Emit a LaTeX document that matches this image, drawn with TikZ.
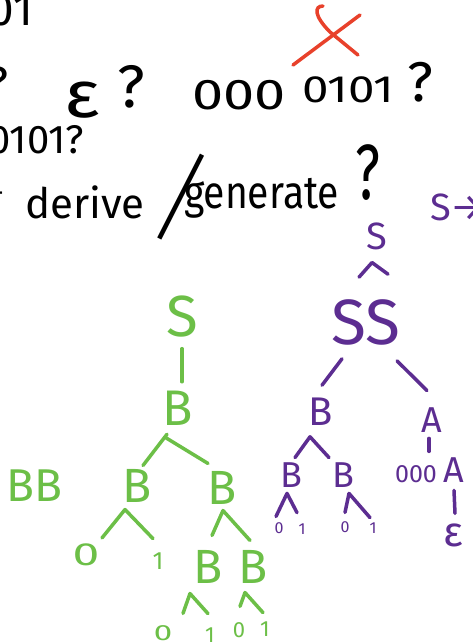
\documentclass[tikz,border=0pt]{standalone}
\usepackage{fontspec}
\IfFontExistsTF{FiraSans-Light.otf}{\setmainfont{FiraSans-Light.otf}[Numbers=Lining]}{\setmainfont{Fira Sans}[Numbers=Lining]}
\usetikzlibrary{calc}
\definecolor{grn}{HTML}{6CBF47}
\definecolor{pur}{HTML}{5C2D91}
\definecolor{xred}{HTML}{E8412B}
\begin{document}
\begin{tikzpicture}[x=1pt,y=-1pt,
  fs/.style={font=\fontsize{#1}{#1}\selectfont},
  tb/.style={inner sep=0pt,outer sep=0pt,text=black},
  tg/.style={inner sep=0pt,outer sep=0pt,text=grn},
  tp/.style={inner sep=0pt,outer sep=0pt,text=pur},
  gl/.style={draw=grn,line width=3.5pt,line cap=round,line join=round},
  pl/.style={draw=pur,line width=3.5pt,line cap=round,line join=round},
  xl/.style={draw=xred,line width=3.5pt,line cap=round}]
\useasboundingbox (0,0) rectangle (472,643);
\fill[white] (0,0) rectangle (472,643);

% ---------- black text ----------
\node[tb,fs=46,anchor=east] (t01) at (33,10) {01};
\node[tb,fs=48] (tq0) at (-2,84) {?};
\node[tb,fs=66] (teps) at (82,100) {\scalebox{1.15}[1]{ε}};
\node[tb,fs=60] (tq1) at (131,87) {?};
\node[tb,fs=43] (tzero) at (239,95) {\scalebox{1.3}[1]{000}};
\node[tb,fs=38] (tbits) at (348,90) {\scalebox{1.25}[1]{0101}};
\node[tb,fs=56] (tq2) at (420,82) {?};
\node[tb,fs=40,anchor=east] (tline3) at (84,140) {0101?};
\node[tb,fs=30,anchor=east] (tdash) at (4,197) {-};
\node[tb,fs=42,anchor=base west] (tderive) at (25,218) {derive};
\node[tb,fs=56] (tslash) at (181,197) {\rotatebox{-27}{\scalebox{1}[1.85]{|}}};
\node[tb,fs=46,anchor=base west] (tgen) at (184,208) {\scalebox{0.85}[1]{generate}};
\node[tb,fs=54] (tq3) at (368,173) {\scalebox{1}[1.45]{?}};
% red cross
\draw[xl] (293,65) -- (360,15);
\draw[xl] (323,6) .. controls (314,6) and (314,16) .. (330,32) -- (358,55);

% ---------- purple ----------
\node[tp,fs=38,anchor=west] (pRule) at (430,207) {S→};
\node[tp,fs=38] (pS) at (377,236) {S};
\node[tp,fs=64] (pSS) at (366,322) {SS};
\node[tp,fs=40] (pB) at (321,412) {B};
\node[tp,fs=36] (pA) at (432,420) {A};
\node[tp,fs=36] (pBl) at (291,475) {B};
\node[tp,fs=36] (pBr) at (343,475) {B};
\node[tp,fs=25] (p000) at (416,474) {000};
\node[tp,fs=36] (pA2) at (454,470) {A};
\node[tp,fs=42] (pEps) at (453,535) {ε};
\node[tp,fs=16] (p0a) at (279,528) {0};
\node[tp,fs=16] (p1a) at (302,529) {1};
\node[tp,fs=16] (p0b) at (345,527) {0};
\node[tp,fs=16] (p1b) at (373,528) {1};

\draw[pl] ($(pSS.north)+(-7,-22)$) -- ($(pS.south)+(-5,13)$) -- ($(pSS.north)+(22,-25)$);
\draw[pl] ($(pSS.south)+(-24,14)$) -- ($(pB.north)+(1,-13)$);
\draw[pl] ($(pSS.south)+(31,16)$) -- ($(pA.north)+(-5,-17)$);
\draw[pl] ($(pBl.north)+(4,-5)$) -- ($(pB.south)+(-11,11)$) -- ($(pBr.north)+(-14,-5)$);
\draw[pl] ($(pA.south)+(-3,6)$) -- ($(p000.north)+(13,-14)$);
\draw[pl] ($(pA2.south)+(0,8)$) -- ($(pEps.north)+(2,-10)$);
\draw[pl] ($(p0a.north)+(-3,-6)$) -- ($(pBl.south)+(-4,6)$) -- ($(p1a.north)+(-5,-11)$);
\draw[pl] ($(p0b.north)+(0,-9)$) -- ($(pBr.south)+(6,6)$) -- ($(p1b.north)+(-3,-5)$);

% ---------- green ----------
\node[tg,fs=58] (gS) at (182,317) {S};
\node[tg,fs=50] (gB) at (178,408) {B};
\node[tg,fs=46] (gBB) at (34,486) {BB};
\node[tg,fs=48] (gBl) at (137,486) {B};
\node[tg,fs=48] (gBr) at (222,488) {B};
\node[tg,fs=32] (g0) at (86,555) {\scalebox{1.5}[1]{0}};
\node[tg,fs=25] (g1) at (158,561) {1};
\node[tg,fs=48] (gB3) at (208,567) {B};
\node[tg,fs=48] (gB4) at (253,567) {B};
\node[tg,fs=22] (g0a) at (163,633) {\scalebox{1.5}[1]{0}};
\node[tg,fs=22] (g1a) at (210,635) {1};
\node[tg,fs=22] (g0b) at (239,630) {0};
\node[tg,fs=22] (g1b) at (265,629) {1};

\draw[gl] ($(gS.south)+(0,11)$) -- ($(gB.north)+(4,-9)$);
\draw[gl] ($(gBl.north)+(6,-4)$) -- ($(gB.south)+(-11,9)$);
\draw[gl] ($(gB.south)+(-13,12)$) -- ($(gBr.north)+(-14,-8)$);
\draw[gl] ($(g0.north)+(16,-6)$) -- ($(gBl.south)+(-12,7)$) -- ($(g1.north)+(-5,-14)$);
\draw[gl] ($(gB3.north)+(4,-15)$) -- ($(gBr.south)+(1,6)$) -- ($(gB4.north)+(-3,-10)$);
\draw[gl] ($(g0a.north)+(20,-12)$) -- ($(gB3.south)+(-18,10)$) -- ($(g1a.north)+(-2,-14)$);
\draw[gl] ($(g0b.north)+(1,-16)$) -- ($(gB4.south)+(-8,9)$) -- ($(g1b.north)+(-2,-9)$);
\end{tikzpicture}
\end{document}
